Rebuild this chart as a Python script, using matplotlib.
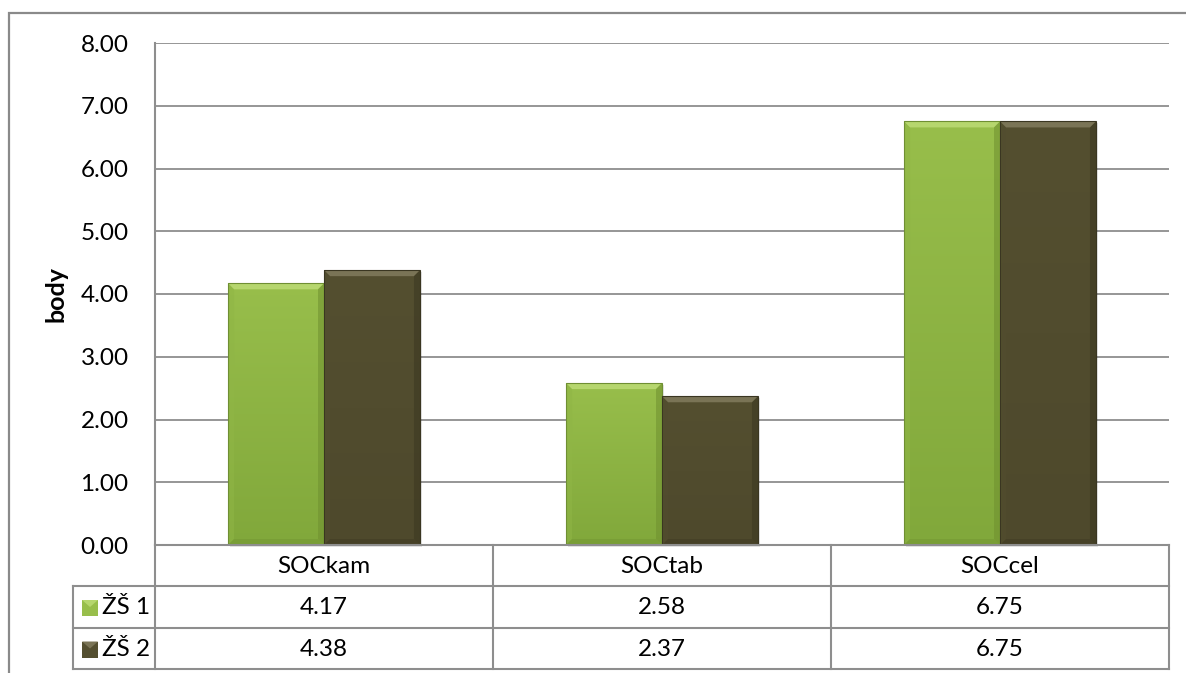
import numpy as np
import matplotlib
matplotlib.use("Agg")
import matplotlib.pyplot as plt
from matplotlib.patches import Rectangle, Polygon
from matplotlib.colors import LinearSegmentedColormap

# ---- data -------------------------------------------------------------
categories = ["SOCkam", "SOCtab", "SOCcel"]
series_names = ["ŽŠ 1", "ŽŠ 2"]
zs1_values = [4.17, 2.58, 6.75]
zs2_values = [4.38, 2.37, 6.75]
y_ticks = [0, 1, 2, 3, 4, 5, 6, 7, 8]
y_label = "body"

# ---- style ------------------------------------------------------------
plt.rcParams["font.family"] = ["Lato", "DejaVu Sans"]
FS = 17.5
W, H = 1186, 673
GRID = "#8e8e8e"
colors = {
    "ŽŠ 1": dict(top="#98be4b", bottom="#81a83b", hi="#b6d66e", lo="#6f9030",
                 left="#90b646", edge="#6f8f33"),
    "ŽŠ 2": dict(top="#544f30", bottom="#4e492c", hi="#7a7456", lo="#3b3721",
                 left="#524d2f", edge="#3a3621"),
}

fig = plt.figure(figsize=(W / 100, H / 100), dpi=100)

# plot area in pixels
PL, PR, PT, PB = 155, 1169, 43, 545
ax = fig.add_axes([PL / W, 1 - PB / H, (PR - PL) / W, (PB - PT) / H])
ax.set_xlim(-0.5, len(categories) - 0.5)
ax.set_ylim(0, 8)

# gridlines
for t in y_ticks:
    ax.axhline(t, color=GRID, lw=1.3, zorder=1)
for s in ["top", "right", "bottom"]:
    ax.spines[s].set_visible(False)
ax.spines["left"].set_color(GRID)
ax.spines["left"].set_linewidth(1.5)
ax.set_xticks([])
ax.set_yticks(y_ticks)
ax.set_yticklabels([f"{t:.2f}" for t in y_ticks], fontsize=FS)
ax.tick_params(axis="y", length=0, pad=19)
ax.set_ylabel(y_label, fontsize=18, fontweight="bold", labelpad=9)

bar_w = 0.284
x = np.arange(len(categories))
px_x = (len(categories)) / (PR - PL)      # data units per pixel (x)
px_y = 8 / (PB - PT)                      # data units per pixel (y)
bev = 6


def draw_bar(xc, h, c):
    x0, x1 = xc - bar_w / 2, xc + bar_w / 2
    bx, by = bev * px_x, bev * px_y
    # soft shadow
    ax.add_patch(Rectangle((x0 + 2 * px_x, -2 * px_y), bar_w, h, color="black",
                           alpha=0.10, lw=0, zorder=2, clip_on=False))
    rect = Rectangle((x0, 0), bar_w, h, facecolor=c["top"], edgecolor="none", zorder=3)
    ax.add_patch(rect)
    cmap = LinearSegmentedColormap.from_list("g", [c["bottom"], c["top"]])
    grad = np.linspace(0, 1, 256).reshape(-1, 1)
    im = ax.imshow(grad, extent=[x0, x1, 0, h], origin="lower", aspect="auto",
                   cmap=cmap, zorder=3.5)
    im.set_clip_path(rect)
    # bevels
    ax.add_patch(Polygon([(x0, h), (x1, h), (x1 - bx, h - by), (x0 + bx, h - by)],
                         closed=True, color=c["hi"], lw=0, zorder=4))
    ax.add_patch(Polygon([(x0, 0), (x0, h), (x0 + bx, h - by), (x0 + bx, by)],
                         closed=True, color=c["left"], lw=0, zorder=4, alpha=0.5))
    ax.add_patch(Polygon([(x1, 0), (x1, h), (x1 - bx, h - by), (x1 - bx, by)],
                         closed=True, color=c["lo"], lw=0, zorder=4, alpha=0.55))
    ax.add_patch(Polygon([(x0, 0), (x1, 0), (x1 - bx, by), (x0 + bx, by)],
                         closed=True, color=c["lo"], lw=0, zorder=4, alpha=0.4))
    ax.add_patch(Rectangle((x0, 0), bar_w, h, fill=False, edgecolor=c["edge"],
                           lw=0.8, zorder=5))


for xi, v in zip(x, zs1_values):
    draw_bar(xi - bar_w / 2, v, colors["ŽŠ 1"])
for xi, v in zip(x, zs2_values):
    draw_bar(xi + bar_w / 2, v, colors["ŽŠ 2"])
ax.set_xlim(-0.5, len(categories) - 0.5)
ax.set_ylim(0, 8)

# ---- overlay in pixel coordinates: frame and data table ---------------
ov = fig.add_axes([0, 0, 1, 1], zorder=-1)
ov.set_xlim(0, W)
ov.set_ylim(H, 0)
ov.axis("off")
ov.patch.set_alpha(0)

# outer chart frame (top and left edges)
ov.plot([9, 9, W + 5], [H + 5, 13, 13], color="#8a8a8a", lw=1.6, solid_joinstyle="miter")

ov2 = fig.add_axes([0, 0, 1, 1], zorder=5)
ov2.set_xlim(0, W)
ov2.set_ylim(H, 0)
ov2.axis("off")
ov2.patch.set_alpha(0)

LEG_L = 73
rows_y = [545, 586, 628, 669]
col_x = [PL + i * (PR - PL) / len(categories) for i in range(len(categories) + 1)]
lw_t = 1.5
# horizontal lines
ov2.plot([PL, PR], [rows_y[0], rows_y[0]], color=GRID, lw=lw_t)
for yy in rows_y[1:]:
    ov2.plot([LEG_L, PR], [yy, yy], color=GRID, lw=lw_t)
# vertical lines
ov2.plot([LEG_L, LEG_L], [rows_y[1], rows_y[3]], color=GRID, lw=lw_t)
ov2.plot([PL, PL], [rows_y[0], rows_y[3]], color=GRID, lw=lw_t)
for cx in col_x[1:]:
    ov2.plot([cx, cx], [rows_y[0], rows_y[3]], color=GRID, lw=lw_t)

# header row
for i, cat in enumerate(categories):
    cx = (col_x[i] + col_x[i + 1]) / 2
    ov2.text(cx, (rows_y[0] + rows_y[1]) / 2 + 1, cat, ha="center", va="center",
             fontsize=FS)

# series rows
for r, (name, vals) in enumerate(zip(series_names, [zs1_values, zs2_values])):
    yc = (rows_y[r + 1] + rows_y[r + 2]) / 2 + 1
    c = colors[name]
    k0, k1 = 82, 98
    ky0, ky1 = yc - 8, yc + 8
    ov2.add_patch(Rectangle((k0, ky0), k1 - k0, ky1 - ky0, color=c["top"], lw=0))
    ov2.add_patch(Polygon([(k0, ky0), (k1, ky0), ((k0 + k1) / 2, yc - 1)],
                          closed=True, color=c["hi"], lw=0))
    ov2.text(102, yc, name, ha="left", va="center", fontsize=FS)
    for i, v in enumerate(vals):
        cx = (col_x[i] + col_x[i + 1]) / 2
        ov2.text(cx, yc, f"{v:.2f}", ha="center", va="center", fontsize=FS)

fig.savefig("out.png", dpi=100)
